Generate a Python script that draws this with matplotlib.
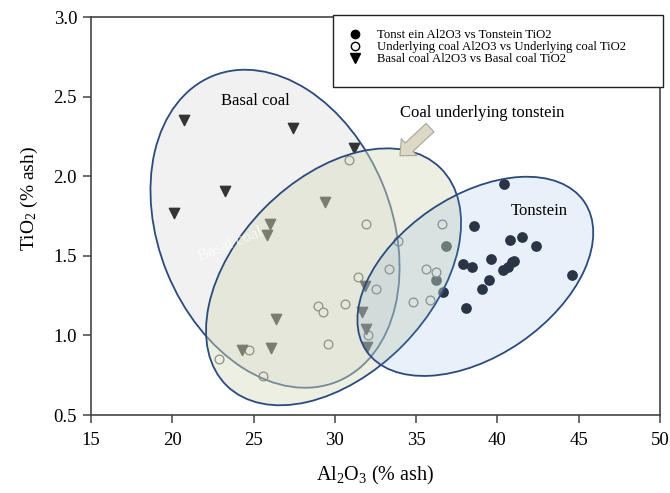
import matplotlib
matplotlib.use("Agg")
import matplotlib.pyplot as plt
from matplotlib.patches import Ellipse, Rectangle, FancyArrowPatch
from matplotlib.transforms import ScaledTranslation
from matplotlib.lines import Line2D

plt.rcParams['font.family'] = ['Liberation Serif', 'DejaVu Serif']
plt.rcParams['mathtext.fontset'] = 'custom'
plt.rcParams['mathtext.rm'] = 'Liberation Serif'
plt.rcParams['mathtext.it'] = 'Liberation Serif:italic'

# --- data ---
tonstein_al = [40.4, 38.55, 36.85, 40.75, 41.5, 42.4, 37.9, 38.45, 39.6, 40.9,
               41.0, 40.65, 40.35, 36.2, 39.5, 39.05, 36.65, 38.05, 44.6]
tonstein_ti = [1.95, 1.69, 1.56, 1.60, 1.62, 1.56, 1.45, 1.43, 1.48, 1.46,
               1.47, 1.43, 1.41, 1.35, 1.35, 1.29, 1.27, 1.17, 1.38]

underlying_al = [30.9, 31.9, 33.9, 36.6, 31.45, 33.3, 32.55, 35.6, 36.25, 28.95,
                 29.3, 30.6, 34.8, 35.85, 29.6, 32.05, 24.7, 22.85, 25.6]
underlying_ti = [2.10, 1.70, 1.59, 1.70, 1.37, 1.42, 1.29, 1.42, 1.40, 1.185,
                 1.15, 1.20, 1.21, 1.22, 0.945, 1.00, 0.91, 0.85, 0.745]

basal_al = [20.7, 27.4, 31.2, 23.25, 20.1, 29.4, 26.0, 25.8, 31.85, 31.65,
            31.9, 31.95, 26.4, 24.3, 26.1]
basal_ti = [2.35, 2.30, 2.18, 1.91, 1.77, 1.84, 1.70, 1.63, 1.31, 1.15,
            1.04, 0.93, 1.10, 0.91, 0.92]

legend_labels = ['Tonst ein Al2O3 vs Tonstein TiO2',
                 'Underlying coal Al2O3 vs Underlying coal TiO2',
                 'Basal coal Al2O3 vs Basal coal TiO2']

# group ellipses: centre (data), width/height (inches), angle, face rgba
groups = [
    ((26.32, 1.67), 3.30, 2.33, -67.85, (0.50, 0.50, 0.51, 0.11)),
    ((29.92, 1.368), 3.05, 1.95, 45.5, (0.835, 0.863, 0.733, 0.44)),
    ((38.64, 1.371), 2.64, 1.60, 34.4, (0.42, 0.61, 0.87, 0.15)),
]

fig = plt.figure(figsize=(6.7, 4.93), dpi=100)
ax = fig.add_axes([0.1358, 0.1582, 0.8493, 0.8073])

ax.scatter(tonstein_al, tonstein_ti, s=45, marker='o', color='#1e232c', zorder=2)
ax.scatter(underlying_al, underlying_ti, s=40, marker='o', facecolor='white',
           edgecolor='#555555', linewidth=0.9, zorder=2)
ax.scatter(basal_al, basal_ti, s=55, marker='v', color='#2b2b2b', zorder=2)

for (cx, cy), w, h, ang, face in groups:
    tr = fig.dpi_scale_trans + ScaledTranslation(cx, cy, ax.transData)
    e = Ellipse((0, 0), w, h, angle=ang, transform=tr, facecolor=face,
                edgecolor='#2c4a7e', linewidth=1.3, zorder=3)
    ax.add_patch(e)

# labels inside the plot
ax.text(25.1, 2.47, 'Basal coal', fontsize=12, ha='center', va='center', zorder=5)
ax.text(39.05, 2.40, 'Coal underlying tonstein', fontsize=12, ha='center', va='center', zorder=5)
ax.text(42.6, 1.78, 'Tonstein', fontsize=12, ha='center', va='center', zorder=5)
ax.text(23.6, 1.57, 'Basal coal', fontsize=12, ha='center', va='center', rotation=22,
        color='white', alpha=0.75, zorder=5)

arrow = FancyArrowPatch((35.98, 2.317), (33.88, 2.117),
                        arrowstyle='simple,head_length=0.6,head_width=1.1,tail_width=0.55',
                        mutation_scale=15, facecolor='#ddd8c6', edgecolor='#a9a596',
                        linewidth=0.8, zorder=5)
ax.add_patch(arrow)

ax.set_xlim(15, 50)
ax.set_ylim(0.5, 3.0)
ax.set_xticks(range(15, 51, 5))
ax.set_yticks([0.5, 1.0, 1.5, 2.0, 2.5, 3.0])
ax.set_yticklabels(['%.1f' % v for v in ax.get_yticks()])
ax.tick_params(labelsize=13.5, length=6, width=1.1, color='#444444', pad=4)
ax.tick_params(axis='x', pad=6)
for sp in ax.spines.values():
    sp.set_color('#444444')
    sp.set_linewidth(1.2)
ax.tick_params(top=False, right=False)

ax.set_xlabel('Al$_2$O$_3$ (% ash)', fontsize=14.5)
ax.set_ylabel('TiO$_2$ (% ash)', fontsize=14)
ax.xaxis.set_label_coords(0.5, -0.122)
ax.yaxis.set_label_coords(-0.09, 0.545)

# legend box drawn on the figure
fig.patches.append(Rectangle((333 / 670, 1 - 87 / 493), 330 / 670, 72 / 493,
                             transform=fig.transFigure, facecolor='white',
                             edgecolor='#222222', linewidth=1.0, zorder=6))
handles = [
    Line2D([], [], marker='o', linestyle='none', color='black', markersize=6),
    Line2D([], [], marker='o', linestyle='none', markerfacecolor='white',
           markeredgecolor='black', markersize=6, markeredgewidth=1.0),
    Line2D([], [], marker='v', linestyle='none', color='black', markersize=7),
]
leg = fig.legend(handles, legend_labels, loc='upper left',
                 bbox_to_anchor=(349 / 670, 1 - 29 / 493), frameon=False,
                 fontsize=9.2, handlelength=1.0, handletextpad=1.2,
                 labelspacing=0.0, borderpad=0, borderaxespad=0)
leg.set_zorder(7)

fig.savefig('out.png', dpi=100)
